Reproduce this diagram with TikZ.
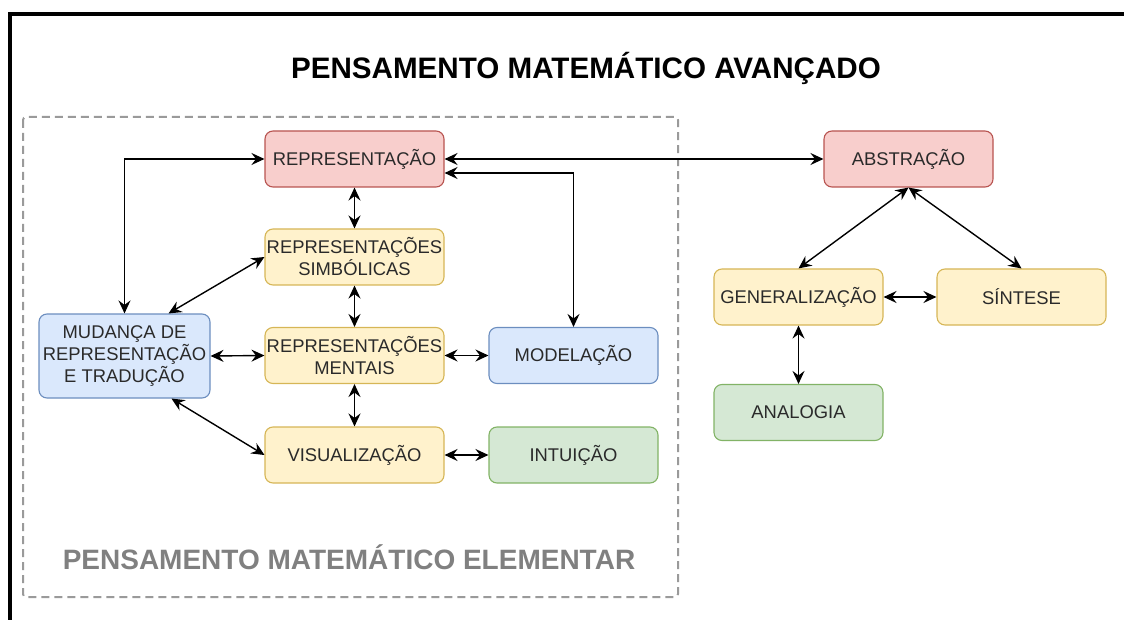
\documentclass[tikz,border=0pt]{standalone}
\usepackage{fontspec}
\setmainfont{Liberation Sans}
\usetikzlibrary{arrows.meta}

\definecolor{redfill}{HTML}{F8CECC}
\definecolor{redline}{HTML}{B85450}
\definecolor{yellowfill}{HTML}{FFF2CC}
\definecolor{yellowline}{HTML}{D6B656}
\definecolor{bluefill}{HTML}{DAE8FC}
\definecolor{blueline}{HTML}{6C8EBF}
\definecolor{greenfill}{HTML}{D5E8D4}
\definecolor{greenline}{HTML}{82B366}
\definecolor{boxtext}{HTML}{2A2A2A}
\definecolor{framegray}{HTML}{9A9A9A}
\definecolor{labelgray}{HTML}{808080}

\begin{document}
\begin{tikzpicture}[x=1pt, y=-1pt,
    box/.style={draw, rounded corners=8pt, line width=1.1pt, minimum width=169pt,
        minimum height=56pt, inner sep=0pt, align=center, text=boxtext,
        font=\fontsize{18.4}{22}\selectfont},
    redbox/.style={box, fill=redfill, draw=redline},
    yellowbox/.style={box, fill=yellowfill, draw=yellowline},
    bluebox/.style={box, fill=bluefill, draw=blueline},
    greenbox/.style={box, fill=greenfill, draw=greenline},
    link/.style={{Stealth[length=13pt,width=12pt,inset=4.5pt]}-{Stealth[length=13pt,width=12pt,inset=4.5pt]},
        line width=1.4pt}]
    \useasboundingbox (0,0) rectangle (1124,620);

    % Frame and titles
    \draw[line width=4pt] (10,620) -- (10,14) -- (1124,14);
    \node[anchor=base, font=\fontsize{29.6}{35}\selectfont\bfseries] (title) at (586,79) {PENSAMENTO MATEMÁTICO AVANÇADO};
    \draw[framegray, line width=2pt, dash pattern=on 8pt off 5pt, rounded corners=3pt] (23,117) rectangle (678,597);
    \node[anchor=base, text=labelgray, font=\fontsize{28}{34}\selectfont\bfseries] (elem) at (349,569) {PENSAMENTO MATEMÁTICO ELEMENTAR};

    % Elementary thinking
    \node[redbox, minimum width=179pt] (rep) at (354.5,159) {REPRESENTAÇÃO};
    \node[yellowbox, minimum width=179pt] (simb) at (354.5,257) {REPRESENTAÇÕES\\SIMBÓLICAS};
    \node[yellowbox, minimum width=179pt] (ment) at (354.5,355.5) {REPRESENTAÇÕES\\MENTAIS};
    \node[yellowbox, minimum width=179pt] (vis) at (354.5,455) {VISUALIZAÇÃO};
    \node[bluebox, minimum width=171pt, minimum height=84pt] (mud) at (124.5,356) {MUDANÇA DE\\REPRESENTAÇÃO\\E TRADUÇÃO};
    \node[bluebox] (model) at (573.5,355.5) {MODELAÇÃO};
    \node[greenbox] (intu) at (573.5,455) {INTUIÇÃO};

    % Advanced thinking
    \node[redbox] (abs) at (908.5,159) {ABSTRAÇÃO};
    \node[yellowbox] (gen) at (798.5,297) {GENERALIZAÇÃO};
    \node[yellowbox] (sint) at (1021.5,297) {SÍNTESE};
    \node[greenbox] (ana) at (798.5,412.5) {ANALOGIA};

    % Connect nodes
    \draw[link] (rep.west) -| (mud.north);
    \draw[link] (rep.east) -- (abs.west);
    \draw[link] ([yshift=-14pt]rep.east) -| (model.north);
    \draw[link] (rep.south) -- (simb.north);
    \draw[link] (simb.south) -- (ment.north);
    \draw[link] (ment.south) -- (vis.north);
    \draw[link] (simb.west) -- ([xshift=44pt]mud.north);
    \draw[link] (mud.east) -- (ment.west);
    \draw[link] ([xshift=47pt]mud.south) -- (vis.west);
    \draw[link] (ment.east) -- (model.west);
    \draw[link] (vis.east) -- (intu.west);
    \draw[link] (abs.south) -- (gen.north);
    \draw[link] (abs.south) -- (sint.north);
    \draw[link] (gen.east) -- (sint.west);
    \draw[link] (gen.south) -- (ana.north);
\end{tikzpicture}
\end{document}
